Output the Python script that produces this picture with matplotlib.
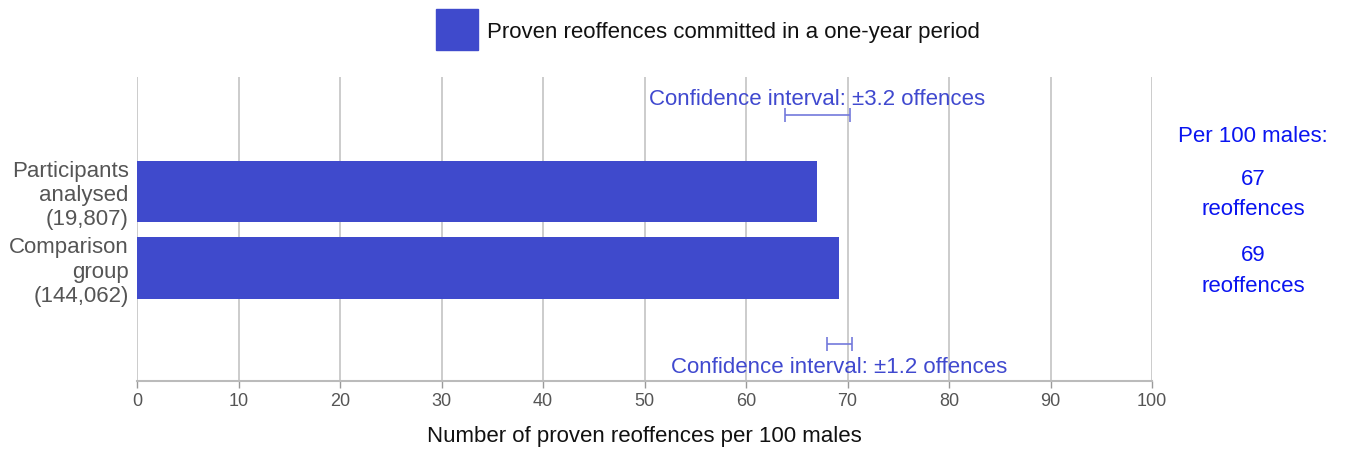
import numpy as np
import matplotlib
matplotlib.use("Agg")
import matplotlib.pyplot as plt
import matplotlib.transforms as mtransforms
from matplotlib.patches import Rectangle

plt.rcParams['font.family'] = ['Liberation Sans', 'DejaVu Sans']

# ── dados ─────────────────────────────────────────────────────────────
categorias = ["Participants\nanalysed\n(19,807)", "Comparison\ngroup\n(144,062)"]
valores    = [67.0, 69.2]
ic         = [3.2, 1.2]
rotulos    = ["67", "69"]
serie      = "Proven reoffences committed in a one-year period"
xticks     = list(range(0, 101, 10))

cor_barra = "#3f4acc"
cor_ic    = "#7379db"
cor_txt   = "#4049cf"
cor_dir   = "#0a14f0"

# ── figura ────────────────────────────────────────────────────────────
fig = plt.figure(figsize=(13.45, 4.5), dpi=100)
ax = fig.add_axes([137/1345, 1-381/450, (1152-137)/1345, (381-77)/450])

pos = np.arange(len(categorias))
ax.barh(pos, valores, height=0.80, color=cor_barra, zorder=3, label=serie)

ax.set_xlim(0, 100)
ax.set_ylim(2.48, -1.5)
ax.set_xticks(xticks)
ax.set_yticks(pos)
ax.set_yticklabels(categorias, fontsize=16, color="#555555", linespacing=1.2)
ax.tick_params(axis="y", length=0, pad=6)
ax.tick_params(axis="x", length=5, width=1, color="#999999", labelsize=13,
               labelcolor="#555555", pad=4)
ax.grid(True, axis="x", color="#c8c8c8", linewidth=1.3, zorder=0)
for s in ["top", "right", "left"]:
    ax.spines[s].set_visible(False)
ax.spines["bottom"].set_color("#bbbbbb")
ax.spines["bottom"].set_linewidth(1.5)

ax.set_xlabel("Number of proven reoffences per 100 males", fontsize=16,
              color="#111111", labelpad=11)

# intervalos de confiança (acima do 1º, abaixo do 2º)
ic_y   = [-1.0, 2.0]
txt_y  = [-1.20, 2.30]
for v, e, yy, ty in zip(valores, ic, ic_y, txt_y):
    ax.errorbar(v, yy, xerr=e, fmt="none", ecolor=cor_ic, elinewidth=1.2,
                capsize=5, capthick=1.2, zorder=4)
    ax.text(v, ty, f"Confidence interval: \u00b1{e} offences", ha="center",
            va="center", fontsize=16, color=cor_txt, zorder=5)

# texto à direita
trans = mtransforms.blended_transform_factory(ax.transAxes, ax.transData)
ax.text(1.0995, -0.72, "Per 100 males:", transform=trans, ha="center",
        va="center", fontsize=16, color=cor_dir, clip_on=False)
for p, r in zip(pos, rotulos):
    ax.text(1.0995, p + 0.04, f"{r}\nreoffences", transform=trans, ha="center",
            va="center", fontsize=16, color=cor_dir, linespacing=1.6,
            clip_on=False)

# legenda (quadrado + texto)
fig.patches.append(Rectangle((436/1345, 1-50/450), 42/1345, 41/450,
                             transform=fig.transFigure, color=cor_barra))
fig.text(487/1345, 1-32.5/450, serie, ha="left", va="center", fontsize=16,
         color="#111111")

fig.savefig("out.png", dpi=100)
